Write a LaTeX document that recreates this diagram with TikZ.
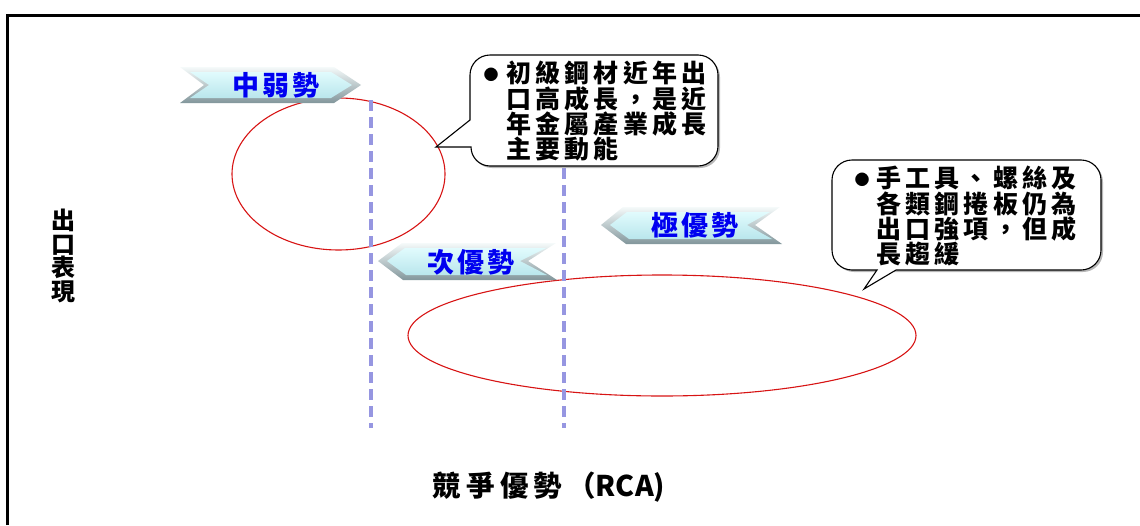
\documentclass[tikz,border=0pt]{standalone}
\usepackage{fontspec}
\setmainfont{Noto Sans CJK TC}
\newfontfamily\cjksp{Noto Sans CJK TC}[LetterSpace=17]
\newfontfamily\bansp{Noto Sans CJK TC}[LetterSpace=12]
\newfontfamily\labsp{Noto Sans CJK TC}[LetterSpace=18]
\definecolor{dashblue}{RGB}{150,150,225}
\definecolor{ellred}{RGB}{215,20,20}
\definecolor{bantop}{RGB}{225,251,253}
\definecolor{banbot}{RGB}{185,230,236}
\definecolor{bevtop}{RGB}{245,250,250}
\definecolor{bevbot}{RGB}{130,150,155}
\definecolor{bantext}{RGB}{0,0,240}
\tikzset{
  framel/.style={line width=3pt},
  divider/.style={dashblue, line width=3.5pt, dash pattern=on 11pt off 6pt},
  ring/.style={ellred, line width=1.1pt},
  callout/.style={draw=black, fill=white, line width=1.1pt},
  cshadow/.style={fill=black!28, draw=none},
  bevel/.style={top color=bevtop, bottom color=bevbot, draw=none},
  banface/.style={top color=bantop, bottom color=banbot, draw=none},
  bantxt/.style={text=bantext, font=\bansp\bfseries\fontsize{27}{28}\selectfont, inner sep=0},
  ctext/.style={anchor=north west, align=left, inner sep=0, font=\cjksp\bfseries\fontsize{25}{23.8}\selectfont},
  bullet/.style={inner sep=0, font=\fontsize{15}{15}\selectfont},
}
\begin{document}
\begin{tikzpicture}[x=1pt,y=-1pt]
\useasboundingbox (0,0) rectangle (1140,525);
% frame
\draw[framel] (7.5,525) -- (7.5,15) -- (1140,15);

% ellipses
\draw[ring] (338.5,174) ellipse [x radius=106.5, y radius=76];
\draw[ring] (662,335.5) ellipse [x radius=254, y radius=60.5];

% dividers
\coordinate (d1t) at (371,100);
\coordinate (d1b) at (371,428);
\coordinate (d2t) at (564,168);
\coordinate (d2b) at (564,428);
\draw[divider] (d1t) -- (d1b);
\draw[divider] (d2t) -- (d2b);

% banner: 中弱勢 (pointing right)
\path[bevel] (180,67) -- (334,67) -- (361,85) -- (334,103) -- (180,103) -- (204,85) -- cycle;
\path[banface] (190,72) -- (331,72) -- (352,85) -- (331,98) -- (190,98) -- (209,85) -- cycle;
\node[bantxt] (b1) at (276,85) {中弱勢};

% banner: 極優勢 (pointing left)
\path[bevel] (601,225) -- (623,207) -- (780,207) -- (755,225) -- (782,244) -- (626,244) -- cycle;
\path[banface] (610,225) -- (627,212) -- (770,212) -- (747,225) -- (772,239) -- (629,239) -- cycle;
\node[bantxt] (b2) at (695,225) {極優勢};

% banner: 次優勢 (pointing left)
\path[bevel] (378,261) -- (402,243) -- (556,243) -- (528,261) -- (557,280) -- (403,280) -- cycle;
\path[banface] (387,261) -- (405,248) -- (546,248) -- (520,261) -- (547,275) -- (406,275) -- cycle;
\node[bantxt] (b3) at (471,262) {次優勢};

% callout 1
\path[cshadow] (492,57) -- (700,57) arc[start angle=-90,end angle=0,radius=20] -- (720,148) arc[start angle=0,end angle=90,radius=20] -- (492,168) arc[start angle=90,end angle=180,radius=20] -- cycle;
\draw[callout] (490,55) -- (698,55) arc[start angle=-90,end angle=0,radius=20] -- (718,146) arc[start angle=0,end angle=90,radius=20] -- (490,166) arc[start angle=90,end angle=180,radius=19] -- (436,147) -- (470,120) -- (470,75) arc[start angle=180,end angle=270,radius=20] -- cycle;
\node[bullet] (c1b) at (491,75) {●};
\node[ctext] (c1) at (506,61) {初級鋼材近年出\\口高成長，是近\\年金屬產業成長\\主要動能};

% callout 2
\path[cshadow] (854,162) -- (1083,162) arc[start angle=-90,end angle=0,radius=20] -- (1103,252) arc[start angle=0,end angle=90,radius=20] -- (854,272) arc[start angle=90,end angle=180,radius=20] -- (834,182) arc[start angle=180,end angle=270,radius=20] -- cycle;
\draw[callout] (852,160) -- (1081,160) arc[start angle=-90,end angle=0,radius=20] -- (1101,250) arc[start angle=0,end angle=90,radius=20] -- (896,270) -- (864,289) -- (877,270) -- (852,270) arc[start angle=90,end angle=180,radius=20] -- (832,180) arc[start angle=180,end angle=270,radius=20] -- cycle;
\node[bullet] (c2b) at (862,180) {●};
\node[ctext] (c2) at (876,166) {手工具、螺絲及\\各類鋼捲板仍為\\出口強項，但成\\長趨緩};

% axis labels
\node[align=center, inner sep=0, font=\bfseries\fontsize{24}{23.5}\selectfont] (ylab) at (63,256) {出\\口\\表\\現};
\node[inner sep=0, font=\bfseries\fontsize{28.5}{30}\selectfont] (xlab) at (549,487) {{\labsp 競爭優勢（}RCA)};
\end{tikzpicture}
\end{document}
